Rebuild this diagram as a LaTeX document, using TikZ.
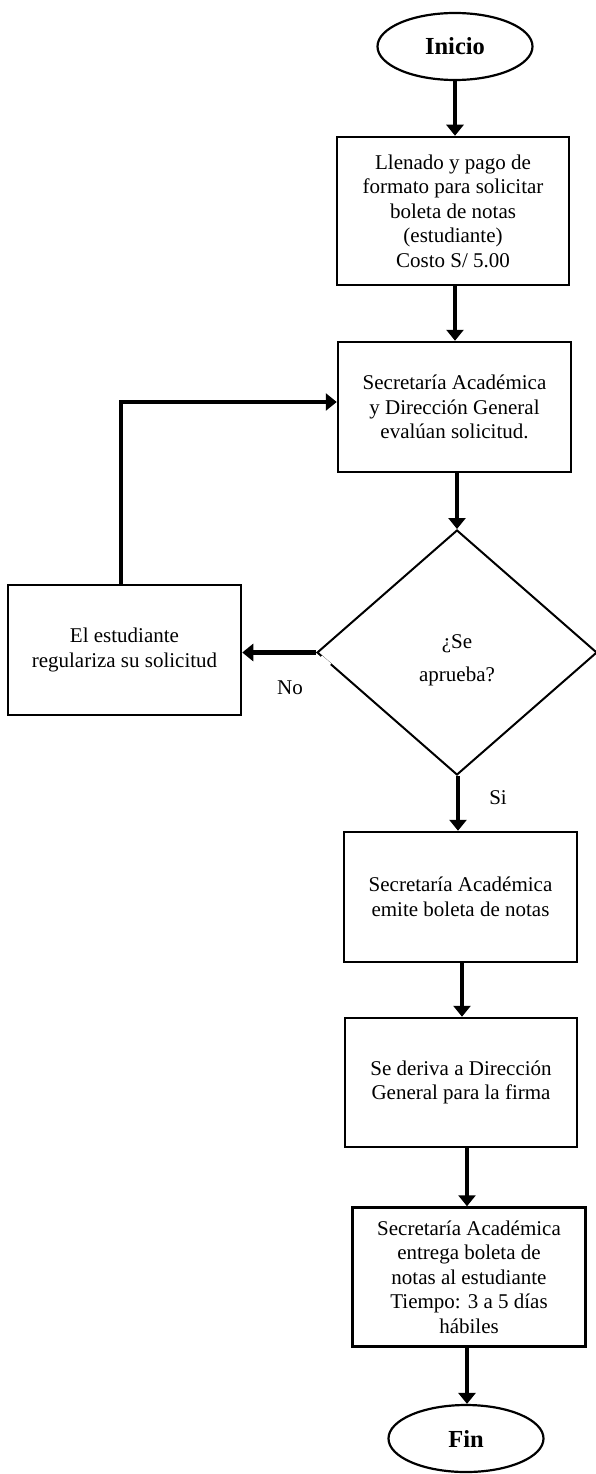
\documentclass[tikz,border=0pt]{standalone}
\usepackage{fontspec}
\setmainfont{Liberation Serif}
\usetikzlibrary{shapes.geometric,arrows.meta,calc}
\tikzset{
  box/.style={draw, line width=2.5pt, minimum width=232pt, inner sep=0pt, align=center,
    font=\fontsize{21}{24.5}\selectfont},
  term/.style={draw, ellipse, line width=2.2pt, minimum width=155pt, minimum height=67pt,
    inner sep=0pt, font=\fontsize{24.5}{28}\selectfont\bfseries},
  decis/.style={draw, diamond, line width=2pt, minimum width=280pt, minimum height=245pt,
    inner sep=0pt},
  flow/.style={line width=4.5pt, -{Triangle[length=11pt 0 0, width=17pt 0 0]}},
  lbl/.style={font=\fontsize{21}{24.5}\selectfont, inner sep=0pt}
}
\begin{document}
\begin{tikzpicture}[x=1pt,y=-1pt]
\useasboundingbox[fill=white] (0,0) rectangle (596,1474);
\node[term] (ini) at (455,46.5) {Inicio};
\node[box, minimum height=148pt] (b1) at (453,211) {Llenado y pago de\\formato para solicitar\\boleta de notas\\(estudiante)\\Costo S/ 5.00};
\node[box, minimum height=130pt, minimum width=233pt] (b2) at (454.5,407) {Secretaría Académica\\y Dirección General\\evalúan solicitud.};
\node[decis] (d) at (457,652.5) {};
\node[lbl, align=center, font=\fontsize{21}{33}\selectfont] (dt) at (457,660) {¿Se\\aprueba?};
\draw[white, line width=3.5pt] ($(d.west)!0.035!(d.south)$) -- ($(d.west)!0.1!(d.south)$);
\node[box, minimum height=130pt, minimum width=233pt] (reg) at (124.5,650) {El estudiante\\regulariza su solicitud};
\node[box, minimum height=130pt, minimum width=233pt] (b3) at (460.5,897) {Secretaría Académica\\emite boleta de notas};
\node[box, minimum height=129pt] (b4) at (461,1082.5) {Se deriva a Dirección\\General para la firma};
\node[box, minimum height=139pt, minimum width=233pt] (b5) at (469,1277) {Secretaría Académica\\entrega boleta de\\notas al estudiante\\Tiempo: 3 a 5 días\\hábiles};
\node[term] (fin) at (466,1438.5) {Fin};
\node[lbl] (no) at (290,688) {No};
\node[lbl] (si) at (498,798) {Si};
\coordinate (c1) at (455,0);
\coordinate (c2) at (458,0);
\coordinate (c3) at (462,0);
\coordinate (c4) at (467,0);
\draw[flow] (c1 |- ini.south) -- (c1 |- b1.north);
\draw[flow] (c1 |- b1.south) -- (c1 |- b2.north);
\draw[flow] (d.north |- b2.south) -- (d.north);
\draw[flow] (d.west) -- (reg.east |- d.west);
\coordinate (lp) at (121,402);
\draw[flow] (lp |- reg.north) -- (lp) -- (b2.west |- lp);
\draw[flow] (c2 |- d.south) -- (c2 |- b3.north);
\draw[flow] (c3 |- b3.south) -- (c3 |- b4.north);
\draw[flow] (c4 |- b4.south) -- (c4 |- b5.north);
\draw[flow] (c4 |- b5.south) -- (c4 |- fin.north);
\end{tikzpicture}
\end{document}
